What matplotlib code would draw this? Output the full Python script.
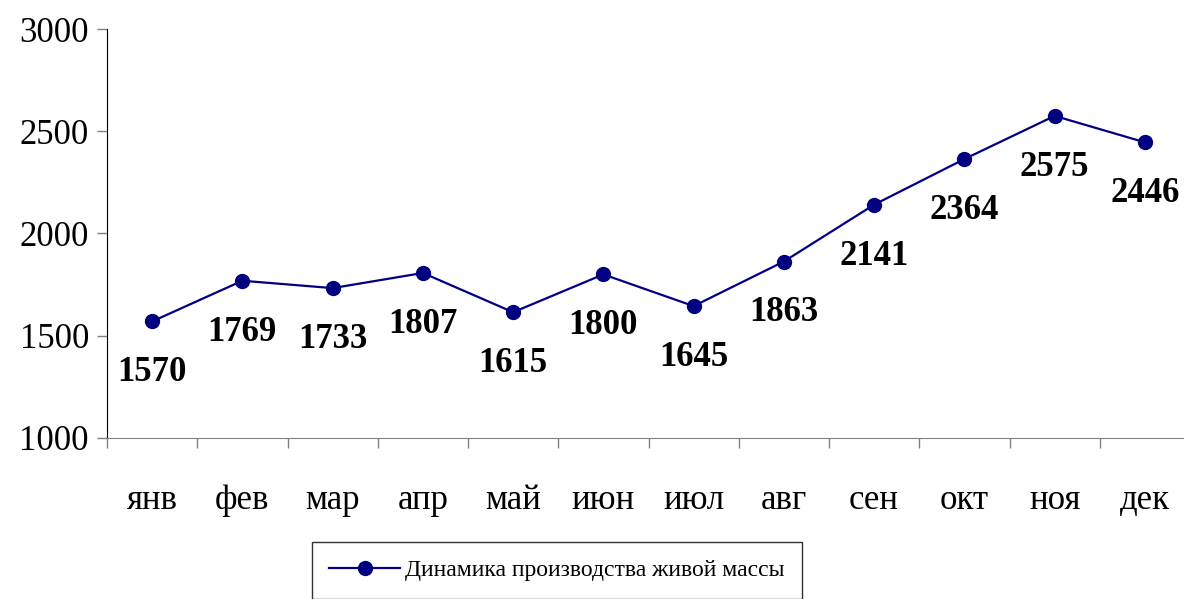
import numpy as np
import matplotlib.pyplot as plt

plt.rcParams['font.family'] = ['Liberation Serif', 'DejaVu Serif']

months = ["янв", "фев", "мар", "апр", "май", "июн",
          "июл", "авг", "сен", "окт", "ноя", "дек"]
values = [1570, 1769, 1733, 1807, 1615, 1800, 1645, 1863, 2141, 2364, 2575, 2446]
series_name = "Динамика производства живой массы"

fig = plt.figure(figsize=(11.84, 5.99), dpi=100)
ax = fig.add_axes([107/1184, 1-438/599, 1083/1184, 409/599])

x = np.arange(len(months)) + 0.5
line, = ax.plot(x, values, color="#000080", lw=1.6, marker="o", ms=10,
                label=series_name, clip_on=False)

for xi, v in zip(x, values):
    ax.annotate(str(v), (xi, v), xytext=(0, -37), textcoords="offset points",
                ha="center", va="center", fontsize=25, fontweight="bold")

ax.set_xlim(0, 12)
ax.set_ylim(1000, 3000)
ax.set_yticks([1000, 1500, 2000, 2500, 3000])
ax.set_xticks(np.arange(0, 13))
ax.set_xticklabels([])
ax.set_xticks(x, minor=True)
ax.set_xticklabels(months, minor=True)
ax.tick_params(axis="x", which="major", direction="out", length=7, color="#808080", width=1)
ax.tick_params(axis="x", which="minor", length=0, pad=33, labelsize=25)
ax.tick_params(axis="y", direction="out", length=7, color="#808080", width=1, labelsize=25, pad=6)

for s in ["top", "right"]:
    ax.spines[s].set_visible(False)
ax.spines["bottom"].set_color("#808080")
ax.spines["left"].set_color("black")

leg = fig.legend(handles=[line], loc="upper center", bbox_to_anchor=(557/1184, 1-542/599),
                 fontsize=17, frameon=True, fancybox=False, edgecolor="black",
                 handlelength=3.0, handletextpad=0.2, borderpad=0.75, borderaxespad=0)
leg.get_frame().set_linewidth(1.0)

fig.savefig("out.png", dpi=100)
